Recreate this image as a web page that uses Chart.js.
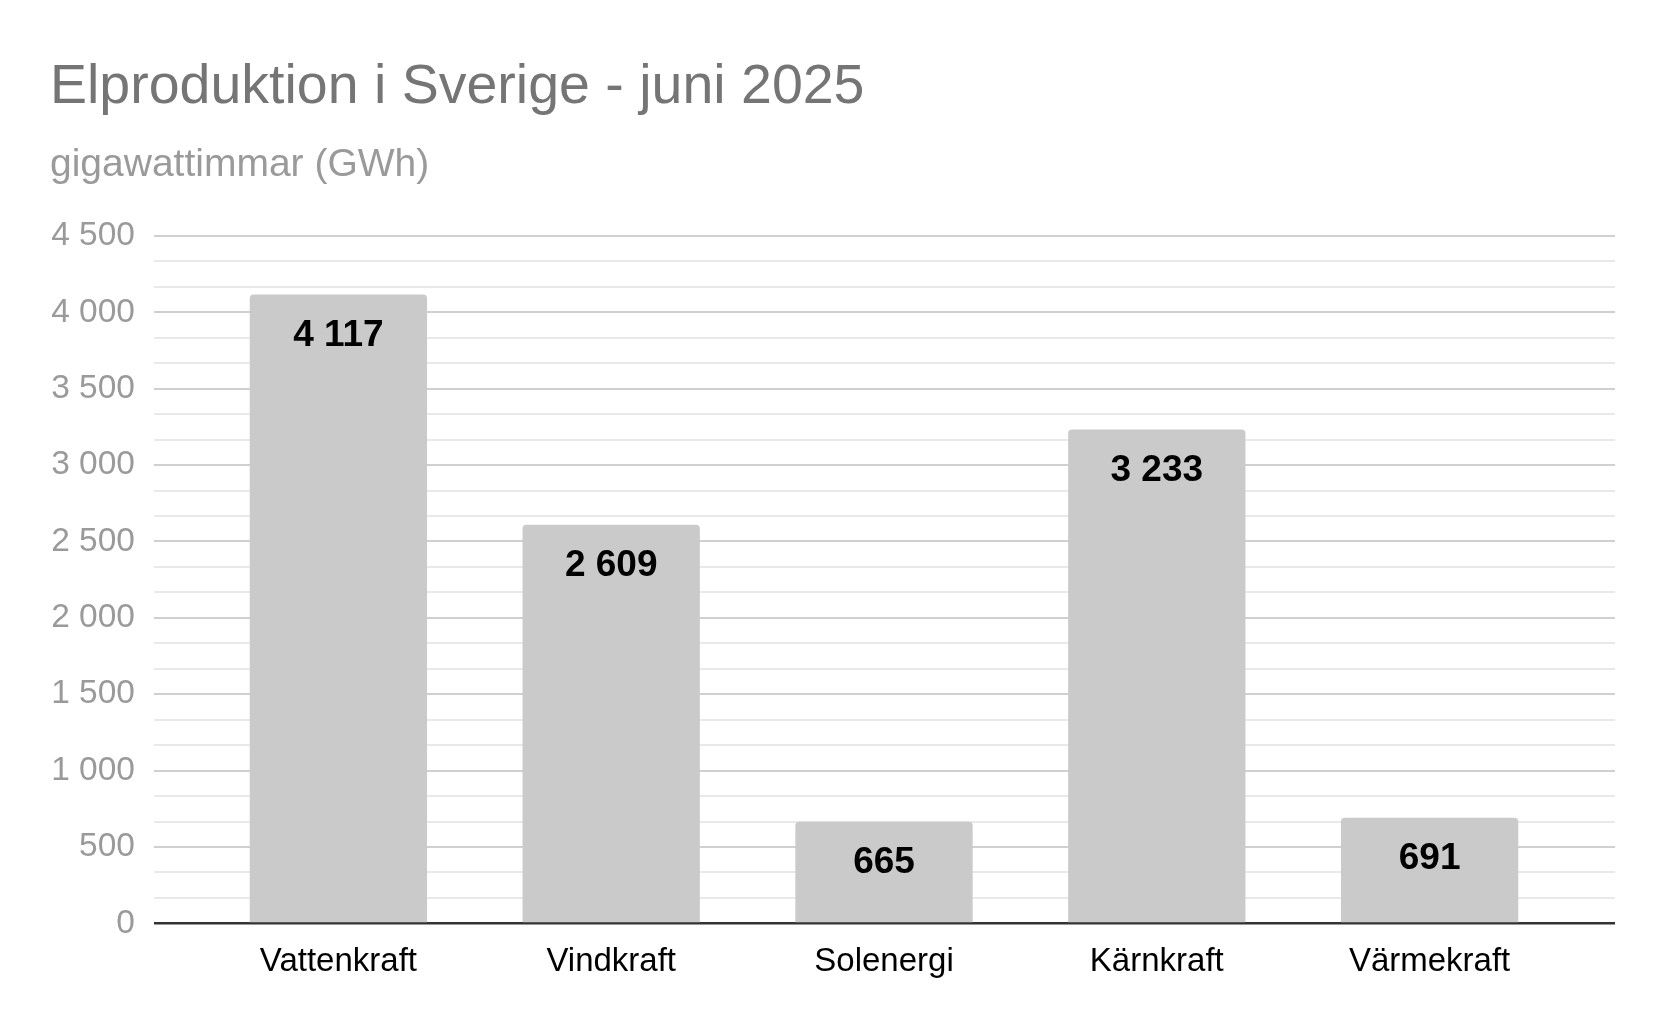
<!DOCTYPE html>
<html lang="sv">
<head>
<meta charset="utf-8">
<title>Elproduktion i Sverige - juni 2025</title>
<script src="https://cdn.jsdelivr.net/npm/chart.js@4.4.1/dist/chart.umd.min.js"></script>
<style>
    html, body { margin: 0; padding: 0; background: #ffffff; }
    #wrap { width: 1666px; height: 1030px; }
</style>
</head>
<body>
<div id="wrap"><canvas id="elChart" width="1666" height="1030"></canvas></div>
<script>
const categories = ['Vattenkraft', 'Vindkraft', 'Solenergi', 'Kärnkraft', 'Värmekraft'];
const production = [4117, 2609, 665, 3233, 691];
const yTicks = [0, 500, 1000, 1500, 2000, 2500, 3000, 3500, 4000, 4500];
const minorPerStep = 3;

const fontFamily = '"Liberation Sans", Arial, Helvetica, sans-serif';
const majorStep = yTicks[1] - yTicks[0];

// tusental med mellanslag: 4117 -> "4 117"
function formatNumber(v) {
    return String(Math.round(v)).replace(/\B(?=(\d{3})+(?!\d))/g, ' ');
}

function isMajor(value) {
    const r = value / majorStep;
    return Math.abs(r - Math.round(r)) < 1e-6;
}

function gridColor(ctx) {
    if (!ctx.tick) return '#e9e9e9';
    if (Math.abs(ctx.tick.value) < 1e-6) return '#333333';
    return isMajor(ctx.tick.value) ? '#d0d0d0' : '#e9e9e9';
}

function gridWidth(ctx) {
    if (ctx.tick && Math.abs(ctx.tick.value) < 1e-6) return 2.5;
    return 2;
}

// värdeetiketter inne i staplarna
const barValueLabels = {
    id: 'barValueLabels',
    afterDatasetsDraw(chart) {
        const ctx = chart.ctx;
        const meta = chart.getDatasetMeta(0);
        ctx.save();
        ctx.font = 'bold 37px ' + fontFamily;
        ctx.fillStyle = '#000000';
        ctx.textAlign = 'center';
        ctx.textBaseline = 'middle';
        meta.data.forEach((bar, i) => {
            ctx.fillText(formatNumber(production[i]), bar.x, bar.y + 41);
        });
        ctx.restore();
    }
};

const yScaleBase = {
    min: yTicks[0],
    max: yTicks[yTicks.length - 1],
    border: { display: false },
    grid: {
        color: gridColor,
        lineWidth: gridWidth,
        drawTicks: true
    }
};

new Chart(document.getElementById('elChart').getContext('2d'), {
    type: 'bar',
    data: {
        labels: categories,
        datasets: [{
            data: production,
            backgroundColor: '#cacaca',
            borderWidth: 0,
            borderRadius: 4,
            barPercentage: 0.65,
            categoryPercentage: 1.0
        }]
    },
    options: {
        responsive: false,
        animation: false,
        devicePixelRatio: 1,
        layout: {
            padding: { left: 50, right: 51, top: 20, bottom: 29 }
        },
        plugins: {
            legend: { display: false },
            tooltip: { enabled: false },
            title: {
                display: true,
                text: 'Elproduktion i Sverige - juni 2025',
                align: 'start',
                color: '#757575',
                font: { family: fontFamily, size: 55.5, weight: 'normal', lineHeight: 1.2 },
                padding: { top: 34, bottom: 0 }
            },
            subtitle: {
                display: true,
                text: 'gigawattimmar (GWh)',
                align: 'start',
                color: '#9a9a9a',
                font: { family: fontFamily, size: 39, weight: 'normal', lineHeight: 1.2 },
                padding: { top: 21, bottom: 47.5 }
            }
        },
        scales: {
            x: {
                border: { display: false },
                grid: { display: false, drawTicks: false },
                ticks: {
                    color: '#000000',
                    padding: 19,
                    font: { family: fontFamily, size: 33 }
                }
            },
            y: {
                ...yScaleBase,
                position: 'left',
                grid: { ...yScaleBase.grid, tickLength: 48 },
                ticks: {
                    stepSize: majorStep / minorPerStep,
                    autoSkip: false,
                    padding: 19,
                    color: '#9a9a9a',
                    font: { family: fontFamily, size: 33.5 },
                    callback: (value) => isMajor(value) ? formatNumber(value) : ''
                },
                afterFit(scale) { scale.width = 152; }
            },
            yRight: {
                ...yScaleBase,
                position: 'right',
                grid: { ...yScaleBase.grid, tickLength: 49, drawOnChartArea: false },
                ticks: {
                    stepSize: majorStep / minorPerStep,
                    autoSkip: false,
                    display: false
                },
                afterFit(scale) { scale.width = 49; }
            }
        }
    },
    plugins: [barValueLabels]
});
</script>
</body>
</html>
